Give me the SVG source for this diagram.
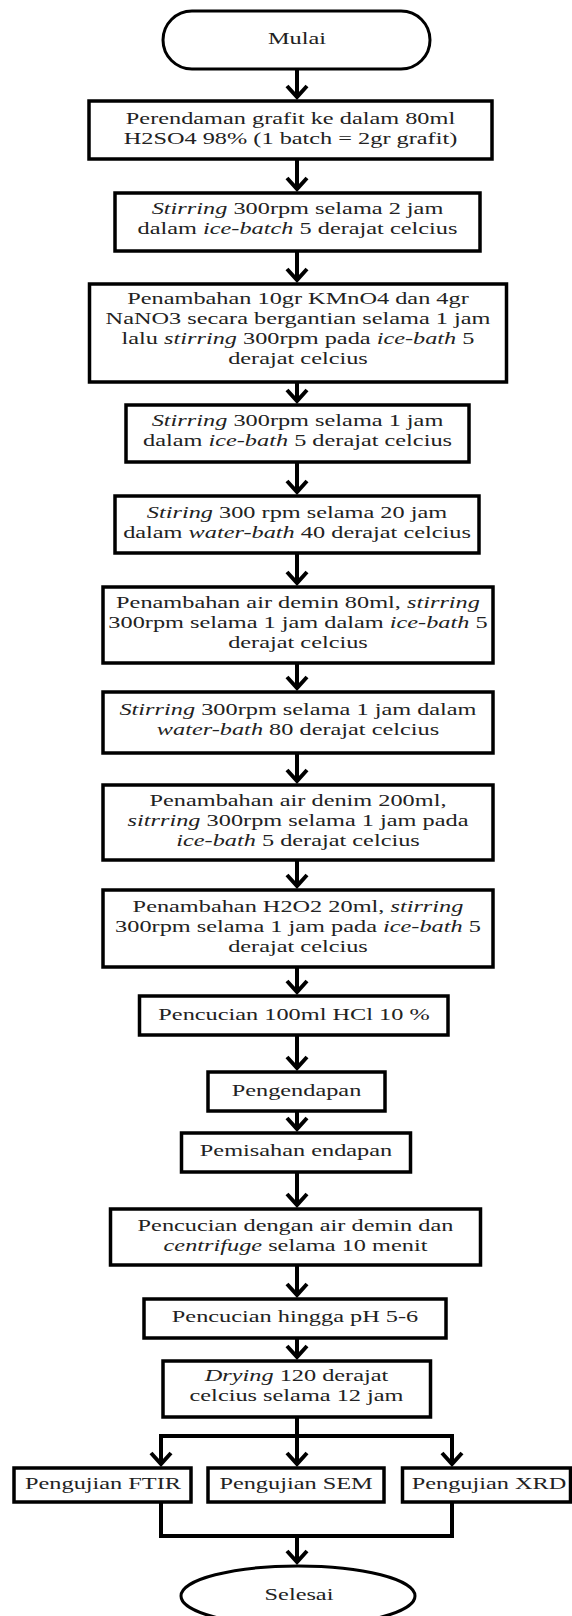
<svg xmlns="http://www.w3.org/2000/svg" width="572" height="1616" viewBox="0 0 572 1616">
<style>
.box{fill:#fff;stroke:#000;stroke-width:3.5}
.term{fill:#fff;stroke:#000;stroke-width:3}
.t{font-family:"Liberation Serif","Times New Roman",serif;font-size:17px;fill:#222;text-anchor:middle}
.i{font-style:italic}
.c{fill:none;stroke:#000;stroke-width:4}
.a{marker-end:url(#arr)}
</style>
<defs>
<marker id="arr" markerUnits="userSpaceOnUse" markerWidth="30" markerHeight="30" viewBox="-15 -15 30 30" refX="0" refY="0" orient="auto" overflow="visible">
<path d="M-11,-10 L0,0 L-11,10" fill="none" stroke="#000" stroke-width="4"/>
</marker>
</defs>
<rect width="572" height="1616" fill="#fff"/>

<g id="connectors">
<line class="c a" x1="297" y1="69" x2="297" y2="97"/>
<line class="c a" x1="297" y1="159" x2="297" y2="189"/>
<line class="c a" x1="297" y1="251" x2="297" y2="280"/>
<line class="c a" x1="297" y1="382" x2="297" y2="401"/>
<line class="c a" x1="297" y1="462" x2="297" y2="492"/>
<line class="c a" x1="297" y1="553" x2="297" y2="583"/>
<line class="c a" x1="297" y1="663" x2="297" y2="688"/>
<line class="c a" x1="297" y1="753" x2="297" y2="781"/>
<line class="c a" x1="297" y1="860" x2="297" y2="886"/>
<line class="c a" x1="297" y1="967" x2="297" y2="992"/>
<line class="c a" x1="297" y1="1035" x2="297" y2="1068"/>
<line class="c a" x1="297" y1="1111" x2="297" y2="1129"/>
<line class="c a" x1="297" y1="1172" x2="297" y2="1205"/>
<line class="c a" x1="297" y1="1265" x2="297" y2="1295"/>
<line class="c a" x1="297" y1="1338" x2="297" y2="1357"/>
<line class="c" x1="297" y1="1417" x2="297" y2="1436"/>
<polyline class="c" points="161,1464 161,1436 452,1436 452,1464" marker-end="url(#arr)"/>
<line class="c a" x1="161" y1="1436" x2="161" y2="1464"/>
<line class="c a" x1="297" y1="1436" x2="297" y2="1464"/>
<polyline class="c" points="161,1502 161,1536 452,1536 452,1502"/>
<line class="c a" x1="297" y1="1536" x2="297" y2="1562"/>
</g>

<g id="mulai">
<rect class="term" x="163" y="11" width="267" height="58" rx="29" ry="29"/>
<text class="t" transform="translate(297 0) scale(1.43 1)" x="0" y="44">Mulai</text>
</g>

<g id="n1">
<rect class="box" x="89" y="101" width="403" height="58"/>
<text class="t" transform="translate(290.5 0) scale(1.43 1)"><tspan x="0" y="124">Perendaman grafit ke dalam 80ml</tspan><tspan x="0" y="144">H2SO4 98% (1 batch = 2gr grafit)</tspan></text>
</g>

<g id="n2">
<rect class="box" x="115" y="193" width="365" height="58"/>
<text class="t" transform="translate(297.5 0) scale(1.43 1)"><tspan x="0" y="214"><tspan class="i">Stirring</tspan> 300rpm selama 2 jam</tspan><tspan x="0" y="234">dalam <tspan class="i">ice-batch</tspan> 5 derajat celcius</tspan></text>
</g>

<g id="n3">
<rect class="box" x="89.5" y="284" width="417" height="98"/>
<text class="t" transform="translate(298 0) scale(1.43 1)"><tspan x="0" y="304">Penambahan 10gr KMnO4 dan 4gr</tspan><tspan x="0" y="324">NaNO3 secara bergantian selama 1 jam</tspan><tspan x="0" y="344">lalu <tspan class="i">stirring</tspan> 300rpm pada <tspan class="i">ice-bath</tspan> 5</tspan><tspan x="0" y="364">derajat celcius</tspan></text>
</g>

<g id="n4">
<rect class="box" x="126" y="405" width="343" height="57"/>
<text class="t" transform="translate(297.5 0) scale(1.43 1)"><tspan x="0" y="426"><tspan class="i">Stirring</tspan> 300rpm selama 1 jam</tspan><tspan x="0" y="446">dalam <tspan class="i">ice-bath</tspan> 5 derajat celcius</tspan></text>
</g>

<g id="n5">
<rect class="box" x="115" y="496" width="364" height="57"/>
<text class="t" transform="translate(297 0) scale(1.43 1)"><tspan x="0" y="518"><tspan class="i">Stiring</tspan> 300 rpm selama 20 jam</tspan><tspan x="0" y="538">dalam <tspan class="i">water-bath</tspan> 40 derajat celcius</tspan></text>
</g>

<g id="n6">
<rect class="box" x="103" y="587" width="390" height="76"/>
<text class="t" transform="translate(298 0) scale(1.43 1)"><tspan x="0" y="608">Penambahan air demin 80ml, <tspan class="i">stirring</tspan></tspan><tspan x="0" y="628">300rpm selama 1 jam dalam <tspan class="i">ice-bath</tspan> 5</tspan><tspan x="0" y="648">derajat celcius</tspan></text>
</g>

<g id="n7">
<rect class="box" x="103" y="692" width="390" height="61"/>
<text class="t" transform="translate(298 0) scale(1.43 1)"><tspan x="0" y="715"><tspan class="i">Stirring</tspan> 300rpm selama 1 jam dalam</tspan><tspan x="0" y="735"><tspan class="i">water-bath</tspan> 80 derajat celcius</tspan></text>
</g>

<g id="n8">
<rect class="box" x="103" y="785" width="390" height="75"/>
<text class="t" transform="translate(298 0) scale(1.43 1)"><tspan x="0" y="806">Penambahan air denim 200ml,</tspan><tspan x="0" y="826"><tspan class="i">sitrring</tspan> 300rpm selama 1 jam pada</tspan><tspan x="0" y="846"><tspan class="i">ice-bath</tspan> 5 derajat celcius</tspan></text>
</g>

<g id="n9">
<rect class="box" x="103" y="890" width="390" height="77"/>
<text class="t" transform="translate(298 0) scale(1.43 1)"><tspan x="0" y="912">Penambahan H2O2 20ml, <tspan class="i">stirring</tspan></tspan><tspan x="0" y="932">300rpm selama 1 jam pada <tspan class="i">ice-bath</tspan> 5</tspan><tspan x="0" y="952">derajat celcius</tspan></text>
</g>

<g id="n10">
<rect class="box" x="139.5" y="996" width="308.5" height="39"/>
<text class="t" transform="translate(294 0) scale(1.43 1)" x="0" y="1020">Pencucian 100ml HCl 10 %</text>
</g>

<g id="n11">
<rect class="box" x="208" y="1072" width="177" height="39"/>
<text class="t" transform="translate(296.5 0) scale(1.43 1)" x="0" y="1096">Pengendapan</text>
</g>

<g id="n12">
<rect class="box" x="181.5" y="1133" width="229" height="39"/>
<text class="t" transform="translate(296 0) scale(1.43 1)" x="0" y="1156">Pemisahan endapan</text>
</g>

<g id="n13">
<rect class="box" x="110.5" y="1209" width="370" height="56"/>
<text class="t" transform="translate(295.5 0) scale(1.43 1)"><tspan x="0" y="1231">Pencucian dengan air demin dan</tspan><tspan x="0" y="1251"><tspan class="i">centrifuge</tspan> selama 10 menit</tspan></text>
</g>

<g id="n14">
<rect class="box" x="144" y="1299" width="302" height="39"/>
<text class="t" transform="translate(295 0) scale(1.43 1)" x="0" y="1322">Pencucian hingga pH 5-6</text>
</g>

<g id="n15">
<rect class="box" x="163" y="1361" width="267.5" height="56"/>
<text class="t" transform="translate(296.5 0) scale(1.43 1)"><tspan x="0" y="1381"><tspan class="i">Drying</tspan> 120 derajat</tspan><tspan x="0" y="1401">celcius selama 12 jam</tspan></text>
</g>

<g id="ftir">
<rect class="box" x="14" y="1468" width="177" height="34"/>
<text class="t" transform="translate(103 0) scale(1.43 1)" x="0" y="1489">Pengujian FTIR</text>
</g>

<g id="sem">
<rect class="box" x="208" y="1468" width="176" height="34"/>
<text class="t" transform="translate(296 0) scale(1.43 1)" x="0" y="1489">Pengujian SEM</text>
</g>

<g id="xrd">
<rect class="box" x="402.5" y="1468" width="168" height="34"/>
<text class="t" transform="translate(489 0) scale(1.43 1)" x="0" y="1489">Pengujian XRD</text>
</g>

<g id="selesai">
<ellipse class="term" cx="298" cy="1596" rx="117" ry="30"/>
<text class="t" transform="translate(299 0) scale(1.43 1)" x="0" y="1600">Selesai</text>
</g>
</svg>
